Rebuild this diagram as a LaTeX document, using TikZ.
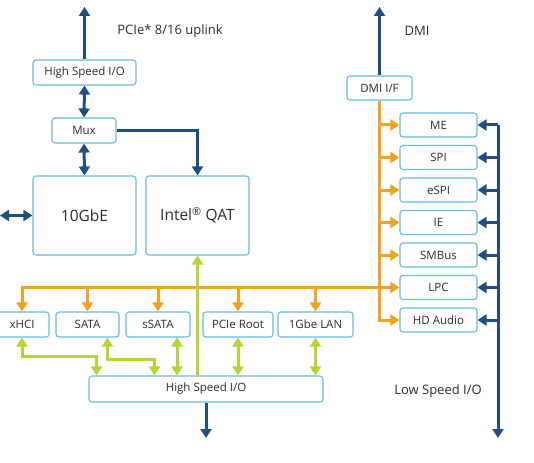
\documentclass[tikz,border=0pt]{standalone}
\usepackage{fontspec}
\setmainfont{Open Sans}
\usetikzlibrary{arrows.meta}
\definecolor{navy}{HTML}{1D4E86}
\definecolor{amber}{HTML}{F7A21E}
\definecolor{lime}{HTML}{B7D433}
\definecolor{boxline}{HTML}{68BBE2}
\definecolor{txt}{HTML}{2C2C2C}

\begin{document}
\begin{tikzpicture}[x=1pt,y=-1pt,
    >={Triangle[width=11pt,length=9pt]},
    blk/.style={draw=boxline,line width=1.1pt,rounded corners=3pt,fill=white,text=txt,inner sep=0pt,minimum height=25pt,font=\fontsize{11.5}{13}\selectfont},
    bigblk/.style={blk,minimum width=103pt,minimum height=79pt,font=\fontsize{15.5}{18}\selectfont},
    lbl/.style={text=txt,font=\fontsize{13}{15}\selectfont},
    navyline/.style={draw=navy,line width=3pt},
    amberline/.style={draw=amber,line width=3pt},
    limeline/.style={draw=lime,line width=3pt}]
      \useasboundingbox [fill=white] (0,0) rectangle (534,462);

      % left stack
      \node [blk,minimum width=103pt] (hsioTop) at (84.5,72.5) {High Speed I/O};
      \node [blk,minimum width=64pt]  (mux)     at (84,130.5) {Mux};
      \node [bigblk] (tengbe) at (84.5,215.5) {10GbE};
      \node [bigblk] (qat)    at (197.5,215.5) {Intel\textsuperscript{\textregistered} QAT};

      % DMI and low speed column
      \node [blk,minimum width=65pt,minimum height=24pt] (dmiif) at (379.5,88) {DMI I/F};
      \node [blk,minimum width=77pt,minimum height=24pt] (me)      at (438.5,125) {ME};
      \node [blk,minimum width=77pt,minimum height=24pt] (spi)     at (438.5,157.5) {SPI};
      \node [blk,minimum width=77pt,minimum height=24pt] (espi)    at (438.5,190) {eSPI};
      \node [blk,minimum width=77pt,minimum height=24pt] (ie)      at (438.5,222.5) {IE};
      \node [blk,minimum width=77pt,minimum height=24pt] (smbus)   at (438.5,255) {SMBus};
      \node [blk,minimum width=77pt,minimum height=24pt] (lpc)     at (438.5,287.5) {LPC};
      \node [blk,minimum width=77pt,minimum height=24pt] (hdaudio) at (438.5,320) {HD Audio};

      % controller row
      \node [blk,minimum width=54pt] (xhci)     at (22,324.5) {xHCI};
      \node [blk,minimum width=63pt] (sata)     at (87.5,324.5) {SATA};
      \node [blk,minimum width=64pt] (ssata)    at (158,324.5) {sSATA};
      \node [blk,minimum width=70pt] (pcieroot) at (238,324.5) {PCIe Root};
      \node [blk,minimum width=75pt] (lan)      at (315.5,324.5) {1Gbe LAN};
      \node [blk,minimum width=234pt,minimum height=26pt] (hsioBot) at (206,389) {High Speed I/O};

      \node [lbl] (uplinklbl) at (170,31) {PCIe* 8/16 uplink};
      \node [lbl] (dmilbl)    at (417,31) {DMI};
      \node [lbl] (lowlbl)    at (438,391) {Low Speed I/O};

      \coordinate (uplink) at (84.5,7);
      \coordinate (dmiup)  at (379.5,7);
      \coordinate (gbeout) at (0,215.5);
      \coordinate (hsout)  at (206,438);
      \coordinate (lsTop)  at (498,125);
      \coordinate (lsBot)  at (498,438);

      % navy links
      \draw [navyline,->]  (hsioTop.north) -- (uplink);
      \draw [navyline,<->] (hsioTop.south) -- (mux.north);
      \draw [navyline,<->] (mux.south) -- (tengbe.north);
      \draw [navyline,->]  (mux.east) -| (qat.north);
      \draw [navyline,<->] (tengbe.west) -- (gbeout);
      \draw [navyline,->]  (hsioBot.south) -- (hsout);
      \draw [navyline,->]  (dmiif.north) -- (dmiup);
      \draw [navyline,->]  (lsTop) -- (lsBot);
      \draw [navyline,->]  (lsTop) -- (me.east);
      \draw [navyline,->]  (spi.east -| lsTop) -- (spi.east);
      \draw [navyline,->]  (espi.east -| lsTop) -- (espi.east);
      \draw [navyline,->]  (ie.east -| lsTop) -- (ie.east);
      \draw [navyline,->]  (smbus.east -| lsTop) -- (smbus.east);
      \draw [navyline,->]  (lpc.east -| lsTop) -- (lpc.east);
      \draw [navyline,->]  (hdaudio.east -| lsTop) -- (hdaudio.east);

      % orange bus
      \draw [amberline,->]  (dmiif.south) |- (hdaudio.west);
      \draw [amberline,->]  (dmiif.south |- me.west) -- (me.west);
      \draw [amberline,->]  (dmiif.south |- spi.west) -- (spi.west);
      \draw [amberline,->]  (dmiif.south |- espi.west) -- (espi.west);
      \draw [amberline,->]  (dmiif.south |- ie.west) -- (ie.west);
      \draw [amberline,->]  (dmiif.south |- smbus.west) -- (smbus.west);
      \draw [amberline,<->] (xhci.north) |- (lpc.west);
      \draw [amberline,->]  (sata.north |- lpc.west) -- (sata.north);
      \draw [amberline,->]  (ssata.north |- lpc.west) -- (ssata.north);
      \draw [amberline,->]  (pcieroot.north |- lpc.west) -- (pcieroot.north);
      \draw [amberline,->]  (lan.north |- lpc.west) -- (lan.north);

      % green links
      \draw [limeline,<->] (xhci.south) -- ++(0,19) -| ([xshift=8pt]hsioBot.north west);
      \draw [limeline,<->] ([xshift=20pt]sata.south) -- ++(0,22) -| ([xshift=66pt]hsioBot.north west);
      \draw [limeline,<->] ([xshift=19pt]ssata.south) -- ([xshift=19pt]ssata.south |- hsioBot.north);
      \draw [limeline,->]  (qat.south |- hsioBot.north) -- (qat.south);
      \draw [limeline,<->] (pcieroot.south) -- (pcieroot.south |- hsioBot.north);
      \draw [limeline,<->] (lan.south) -- (lan.south |- hsioBot.north);
\end{tikzpicture}
\end{document}
